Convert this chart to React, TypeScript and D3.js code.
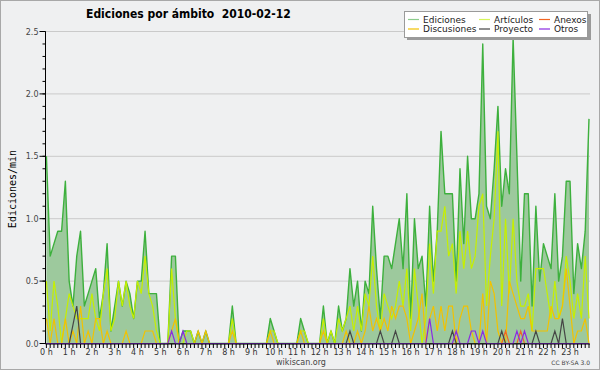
import React from "react";
import * as d3 from "d3";

// edits per minute, one value per 10-minute slot (6 per hour, 0 h .. 23 h)
const ediciones = [
  1.5, 0.7, 0.8, 0.9, 0.9, 1.3,
  0.5, 0.3, 0.7, 0.9, 0.3, 0.4,
  0.5, 0.6, 0.2, 0.4, 0.8, 0.1,
  0.3, 0.5, 0.3, 0.5, 0.4, 0.2,
  0.5, 0.5, 0.9, 0.4, 0.4, 0.4,
  0, 0, 0, 0.7, 0.7, 0,
  0.1, 0.1, 0.1, 0, 0.1, 0,
  0.1, 0, 0, 0, 0, 0,
  0, 0.3, 0, 0, 0, 0,
  0, 0, 0, 0, 0, 0.2,
  0.1, 0, 0, 0, 0, 0,
  0, 0.2, 0.1, 0, 0, 0,
  0, 0.3, 0, 0.1, 0, 0.3,
  0.1, 0.2, 0.6, 0.3, 0.5, 0.1,
  0.5, 0.4, 1.1, 0.6, 0.2, 0.7,
  0.7, 0.6, 0.8, 1.0, 0.6, 1.2,
  0.2, 1.0, 0.6, 0.7, 0.3, 1.1,
  0.5, 0.9, 1.7, 1.2, 1.2, 1.2,
  0.5, 1.4, 0.8, 1.5, 1.0, 1.0,
  1.2, 2.4, 1.1, 1.0, 1.4, 1.9,
  1.1, 1.4, 1.2, 2.45, 1.5, 0.5,
  1.2, 1.2, 0.3, 1.1, 0.5, 0.8,
  0.7, 0.6, 1.2, 0.5, 0.7, 1.3,
  1.3, 0.4, 0.8, 0.6, 0.9, 1.8,
];

const articulos = [
  0.5, 0.1, 0.5, 0.3, 0, 0.2,
  0.4, 0.3, 0.2, 0.2, 0.2, 0.2,
  0.4, 0.2, 0.1, 0.4, 0.6, 0.1,
  0.2, 0.5, 0.3, 0.5, 0.3, 0.2,
  0.5, 0.4, 0.7, 0.4, 0.3, 0.1,
  0, 0, 0, 0.6, 0.2, 0,
  0, 0.1, 0.1, 0, 0, 0,
  0, 0, 0, 0, 0, 0,
  0, 0.2, 0, 0, 0, 0,
  0, 0, 0, 0, 0, 0.1,
  0.1, 0, 0, 0, 0, 0,
  0, 0.1, 0.1, 0, 0, 0,
  0, 0.2, 0, 0.1, 0, 0.2,
  0.1, 0.2, 0.3, 0.1, 0.3, 0.1,
  0.4, 0.3, 0.7, 0.3, 0.1, 0.4,
  0.3, 0.2, 0.3, 0.5, 0.3, 0.6,
  0.1, 0.6, 0.3, 0, 0.2, 0.8,
  0.4, 0.9, 0.9, 1.1, 0.7, 0.8,
  0.4, 0.9, 0.6, 0.9, 0.6, 0.7,
  1.1, 1.2, 0.3, 0.7, 1.0, 1.7,
  0.3, 1.0, 0.4, 1.0, 0.5, 0.3,
  0.3, 0.4, 0.1, 0.6, 0.6, 0.6,
  0.4, 0.2, 0.5, 0.2, 0.3, 0.7,
  0.5, 0.2, 0.4, 0.2, 0.7, 0.2,
];

const discusiones = [
  0.2, 0, 0.2, 0, 0, 0.2,
  0, 0.1, 0, 0.3, 0, 0.1,
  0, 0.2, 0.2, 0, 0.1, 0,
  0, 0, 0, 0.1, 0, 0,
  0, 0, 0.1, 0.1, 0.1, 0,
  0, 0, 0, 0.1, 0.2, 0,
  0, 0, 0, 0, 0.1, 0,
  0.1, 0, 0, 0, 0, 0,
  0, 0.1, 0, 0, 0, 0,
  0, 0, 0, 0, 0, 0.1,
  0, 0, 0, 0, 0, 0,
  0, 0.1, 0, 0, 0, 0,
  0, 0.1, 0, 0, 0, 0,
  0, 0.1, 0, 0, 0.1, 0,
  0.1, 0.3, 0.1, 0.2, 0.1, 0.2,
  0.1, 0.3, 0.2, 0.3, 0.3, 0.2,
  0, 0.1, 0.2, 0.4, 0, 0.2,
  0.3, 0.1, 0.3, 0.1, 0.3, 0.3,
  0, 0.2, 0.3, 0.3, 0.1, 0,
  0, 0.4, 0, 0.5, 0.4, 0.1,
  0, 0, 0.5, 0.4, 0.3, 0.2,
  0.2, 0.3, 0.1, 0.1, 0.1, 0.1,
  0.1, 0.3, 0.2, 0.2, 0.3, 0.6,
  0.3, 0, 0.1, 0.1, 0.2, 0,
];

const proyecto = [
  0, 0, 0, 0, 0, 0,
  0, 0.15, 0.3, 0, 0, 0,
  0, 0, 0, 0, 0, 0,
  0, 0, 0, 0, 0, 0,
  0, 0, 0, 0, 0, 0,
  0, 0, 0, 0, 0, 0,
  0, 0, 0, 0, 0, 0,
  0, 0, 0, 0, 0, 0,
  0, 0, 0, 0, 0, 0,
  0, 0, 0, 0, 0, 0,
  0, 0, 0, 0, 0, 0,
  0, 0, 0, 0, 0, 0,
  0, 0, 0, 0, 0, 0,
  0, 0, 0.1, 0, 0, 0,
  0, 0, 0, 0, 0.1, 0,
  0, 0, 0.1, 0, 0, 0,
  0, 0, 0, 0, 0, 0,
  0, 0, 0, 0, 0, 0.1,
  0, 0, 0, 0, 0, 0,
  0, 0, 0, 0, 0, 0,
  0.1, 0, 0, 0, 0, 0,
  0, 0, 0, 0.1, 0, 0,
  0, 0, 0.1, 0, 0.2, 0,
  0, 0, 0, 0, 0, 0,
];

const otros = [
  0, 0, 0, 0, 0, 0,
  0, 0, 0, 0, 0, 0,
  0, 0, 0, 0, 0, 0,
  0, 0, 0, 0, 0, 0,
  0, 0, 0, 0, 0, 0,
  0, 0, 0, 0.1, 0, 0,
  0.1, 0, 0, 0, 0, 0,
  0, 0, 0, 0, 0, 0,
  0, 0, 0, 0, 0, 0,
  0, 0, 0, 0, 0, 0,
  0, 0, 0, 0, 0, 0,
  0, 0, 0, 0, 0, 0,
  0, 0, 0, 0, 0, 0,
  0, 0, 0, 0, 0, 0,
  0, 0, 0, 0, 0, 0,
  0, 0, 0, 0, 0, 0,
  0, 0, 0, 0, 0, 0.2,
  0, 0, 0, 0, 0, 0,
  0.1, 0, 0, 0, 0.1, 0.1,
  0, 0.1, 0, 0, 0, 0,
  0, 0, 0, 0, 0.1, 0,
  0.1, 0, 0, 0, 0, 0,
  0, 0, 0, 0, 0, 0,
  0, 0, 0, 0, 0, 0,
];

const anexos = [
  0, 0, 0, 0, 0, 0,
  0, 0, 0, 0, 0, 0,
  0, 0, 0, 0, 0, 0,
  0, 0, 0, 0, 0, 0,
  0, 0, 0, 0, 0, 0,
  0, 0, 0, 0, 0, 0,
  0, 0, 0, 0, 0, 0,
  0, 0, 0, 0, 0, 0,
  0, 0, 0, 0, 0, 0,
  0, 0, 0, 0, 0, 0,
  0, 0, 0, 0, 0, 0,
  0, 0, 0, 0, 0, 0,
  0, 0, 0, 0, 0, 0,
  0, 0, 0, 0, 0, 0,
  0, 0, 0, 0, 0, 0,
  0, 0, 0, 0, 0, 0,
  0, 0, 0, 0, 0, 0,
  0, 0, 0, 0, 0, 0,
  0, 0, 0, 0, 0, 0,
  0, 0, 0, 0, 0, 0,
  0, 0.1, 0, 0, 0, 0.1,
  0, 0, 0, 0, 0, 0,
  0, 0, 0, 0, 0, 0,
  0, 0, 0, 0, 0, 0,
];

const hourLabels = [
  "0 h", "1 h", "2 h", "3 h", "4 h", "5 h", "6 h", "7 h", "8 h", "9 h", "10 h", "11 h",
  "12 h", "13 h", "14 h", "15 h", "16 h", "17 h", "18 h", "19 h", "20 h", "21 h", "22 h", "23 h",
];
const yTicks = [0, 0.5, 1, 1.5, 2, 2.5];

const lines = [
  { name: "Artículos", values: articulos, color: "#c6ef00" },
  { name: "Discusiones", values: discusiones, color: "#f2c200" },
  { name: "Anexos", values: anexos, color: "#f26522" },
  { name: "Proyecto", values: proyecto, color: "#454545" },
  { name: "Otros", values: otros, color: "#8a2be2" },
];

const legendItems = [
  { name: "Ediciones", color: "#8ccc8c", col: 0, row: 0 },
  { name: "Artículos", color: "#d6f55a", col: 1, row: 0 },
  { name: "Anexos", color: "#f26522", col: 2, row: 0 },
  { name: "Discusiones", color: "#f2c200", col: 0, row: 1 },
  { name: "Proyecto", color: "#454545", col: 1, row: 1 },
  { name: "Otros", color: "#8a2be2", col: 2, row: 1 },
];

const font = "'DejaVu Sans', sans-serif";

export default function App() {
  const x = d3.scaleLinear().domain([0, 143]).range([46.4, 589]);
  const y = d3.scaleLinear().domain([0, 2.5]).range([343.5, 31.5]);

  const line = d3
    .line<number>()
    .x((d, i) => x(i))
    .y((d) => y(d));
  const area = d3
    .area<number>()
    .x((d, i) => x(i))
    .y0(y(0))
    .y1((d) => y(d));

  const minorY = y.ticks(25);
  const slots = d3.range(ediciones.length);
  const legendCols = [408, 479, 539];

  return (
    <>
      <style>{`body{margin:0}`}</style>
      <svg width={600} height={370} style={{ display: "block" }}>
        <rect x={0.5} y={0.5} width={599} height={369} fill="#eff0f1" stroke="#a8a8a8" />

        {/* grid */}
        {yTicks.slice(1).map((t) => (
          <line key={t} x1={46} x2={590} y1={y(t)} y2={y(t)} stroke="#cacaca" strokeWidth={1} />
        ))}

        {/* main series */}
        <path d={area(ediciones) || ""} fill="#9dc99d" />
        <path d={line(ediciones) || ""} fill="none" stroke="#3db03d" strokeWidth={1.4} strokeLinejoin="round" />
        {lines.map((s) => (
          <path key={s.name} d={line(s.values) || ""} fill="none" stroke={s.color} strokeWidth={1.2} />
        ))}

        {/* y axis */}
        <line x1={45.5} x2={45.5} y1={31.5} y2={344} stroke="#000" />
        {minorY.map((t) => (
          <line key={"m" + t} x1={42.5} x2={45.5} y1={y(t)} y2={y(t)} stroke="#000" />
        ))}
        {yTicks.map((t) => (
          <g key={"t" + t}>
            <line x1={39.5} x2={45.5} y1={y(t)} y2={y(t)} stroke="#000" />
            <text x={38.5} y={y(t) + 3} textAnchor="end" fontFamily={font} fontSize={8} fill="#444">
              {t.toFixed(1)}
            </text>
          </g>
        ))}

        {/* x axis */}
        <line x1={45.5} x2={590} y1={344} y2={344} stroke="#000" />
        {slots.map((i) => (
          <line key={"x" + i} x1={x(i)} x2={x(i)} y1={344} y2={348} stroke="#000" />
        ))}
        {hourLabels.map((h, k) => (
          <text key={h} x={x(k * 6)} y={355} textAnchor="middle" fontFamily={font} fontSize={8} fill="#333">
            {h}
          </text>
        ))}

        <text
          x={12}
          y={189}
          transform="rotate(-90 12 189)"
          textAnchor="middle"
          dominantBaseline="central"
          fontFamily="'DejaVu Sans Mono', monospace"
          fontSize={10}
          fill="#000"
        >
          Ediciones/min
        </text>

        <text
          x={86}
          y={18}
          fontFamily="'DejaVu Sans Condensed', 'DejaVu Sans', sans-serif"
          fontWeight="bold"
          fontSize={12}
          fill="#000"
          style={{ whiteSpace: "pre" }}
        >
          {"Ediciones por ámbito  2010-02-12"}
        </text>

        {/* legend */}
        <rect x={407} y={14} width={184} height={26} fill="#9a9a9a" />
        <rect x={404.5} y={11.5} width={183} height={26} fill="#fff" stroke="#9a9a9a" />
        {legendItems.map((d) => {
          const lx = legendCols[d.col];
          const ly = d.row === 0 ? 19.5 : 29;
          return (
            <g key={d.name}>
              <line x1={lx} x2={lx + 11} y1={ly} y2={ly} stroke={d.color} strokeWidth={1.2} />
              <text x={lx + 15} y={ly + 3.3} fontFamily={font} fontSize={9} fill="#222">
                {d.name}
              </text>
            </g>
          );
        })}

        <text x={301} y={365} textAnchor="middle" fontFamily={font} fontSize={8} fill="#444">
          wikiscan.org
        </text>
        <text x={590} y={365} textAnchor="end" fontFamily={font} fontSize={6} fill="#444">
          CC BY-SA 3.0
        </text>
      </svg>
    </>
  );
}
